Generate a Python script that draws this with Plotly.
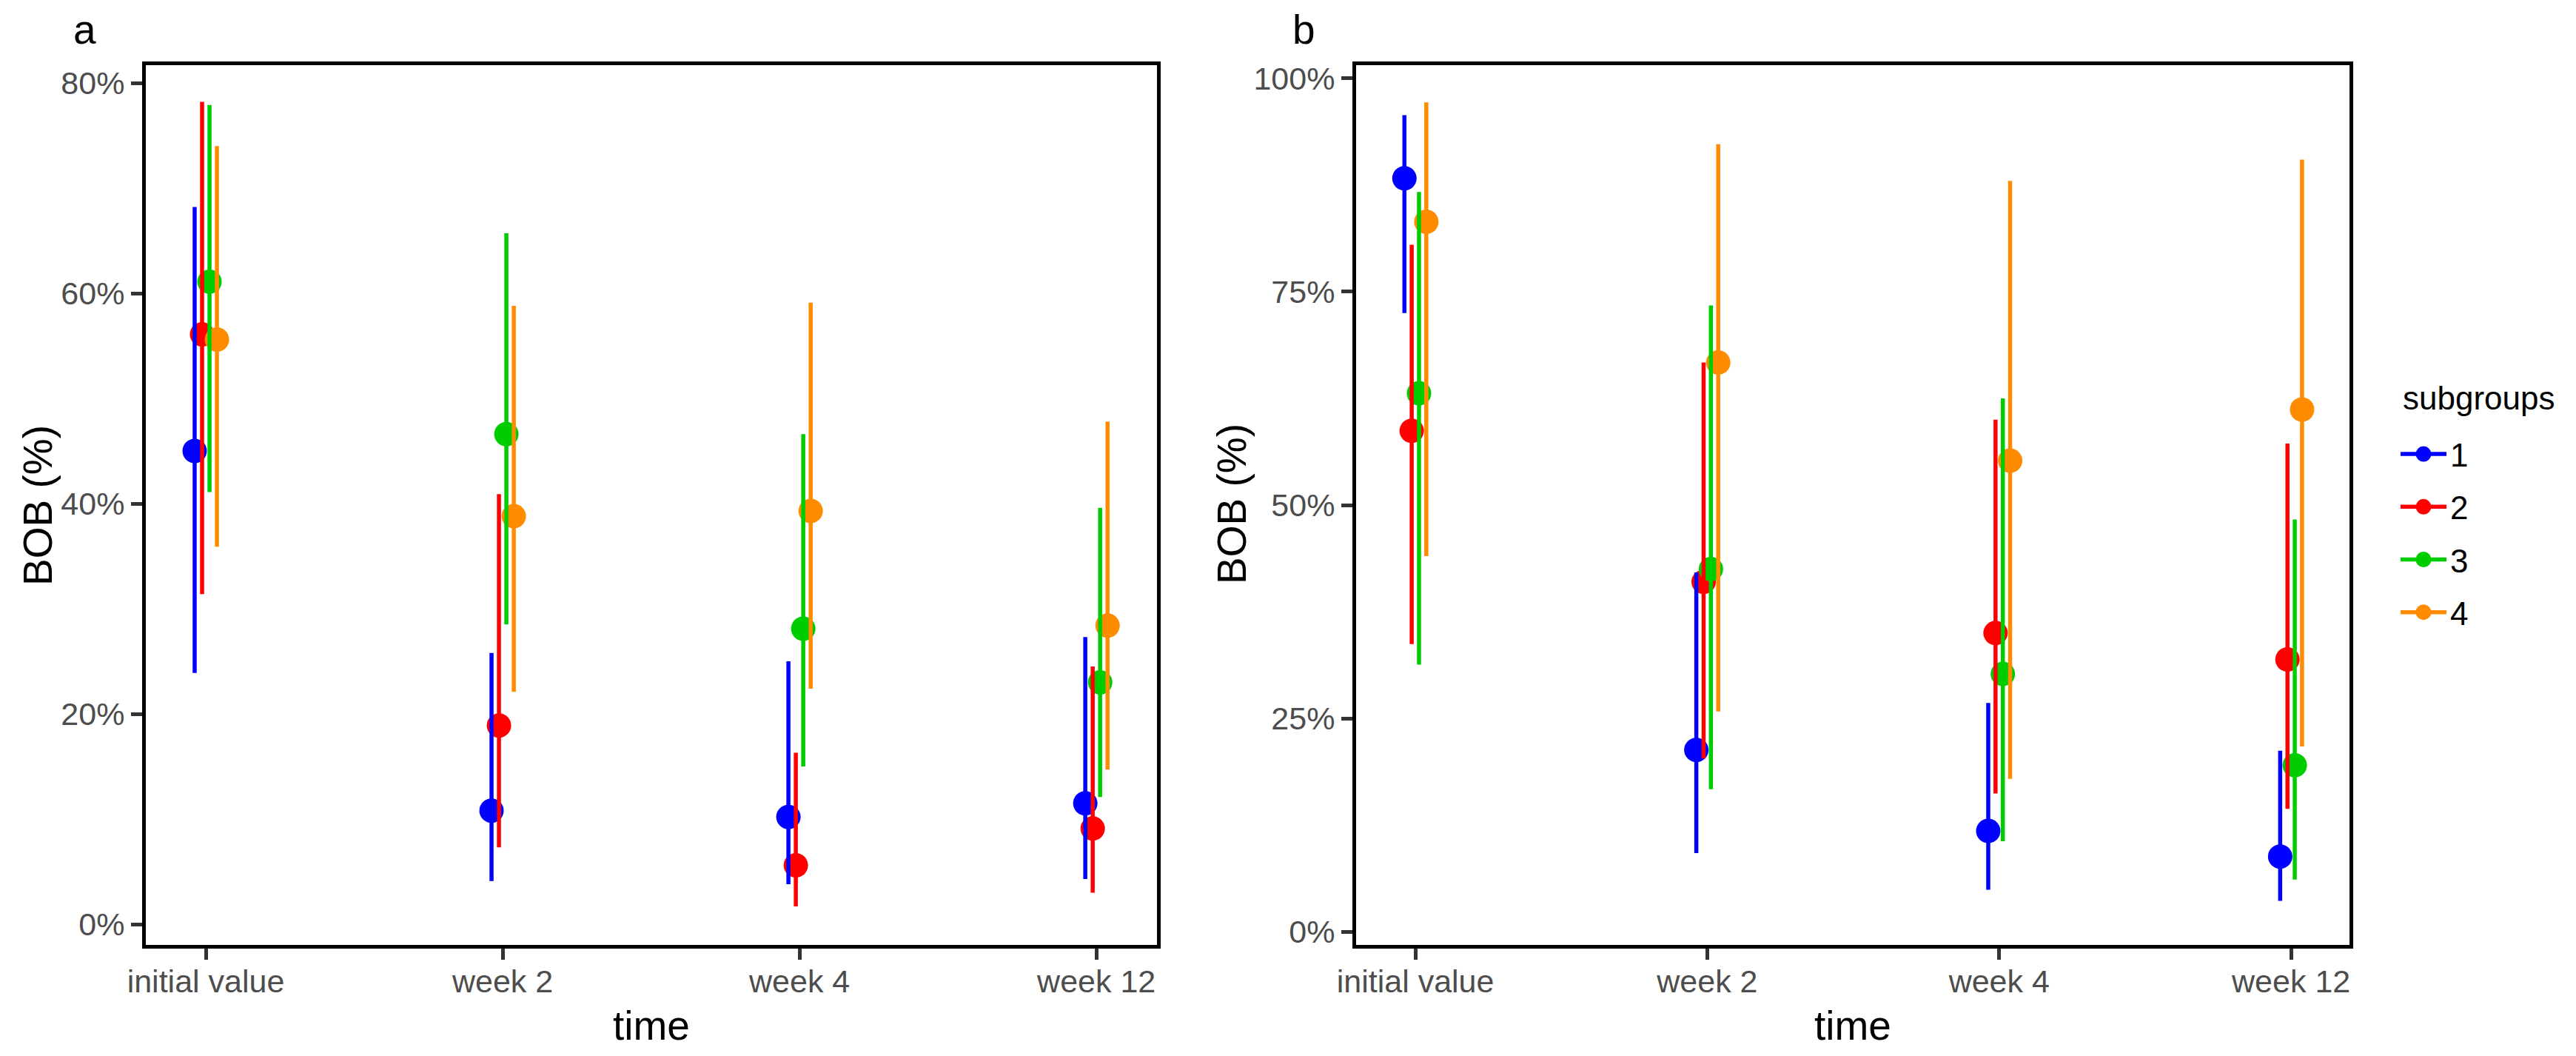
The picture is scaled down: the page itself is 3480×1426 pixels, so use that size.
import plotly.graph_objects as go

# ---------------- data ----------------
times = ["initial value", "week 2", "week 4", "week 12"]
subgroups = ["1", "2", "3", "4"]

# panel a : BOB (%) estimate, lower and upper limits, one row per subgroup
a_est = [
    [45.0, 10.8, 10.2, 11.5],
    [56.1, 18.9, 5.6, 9.1],
    [61.1, 46.6, 28.1, 23.0],
    [55.6, 38.8, 39.3, 28.4],
]
a_low = [
    [23.9, 4.1, 3.8, 4.3],
    [31.4, 7.3, 1.7, 3.0],
    [41.1, 28.5, 15.0, 12.1],
    [35.9, 22.1, 22.4, 14.7],
]
a_high = [
    [68.2, 25.8, 25.0, 27.3],
    [78.2, 40.9, 16.3, 24.5],
    [77.9, 65.7, 46.6, 39.6],
    [74.0, 58.8, 59.1, 47.8],
]

# panel b
b_est = [
    [88.3, 21.3, 11.8, 8.8],
    [58.7, 41.0, 35.0, 31.9],
    [63.1, 42.5, 30.2, 19.5],
    [83.2, 66.7, 55.2, 61.2],
]
b_low = [
    [72.5, 9.2, 4.9, 3.6],
    [33.7, 20.3, 16.2, 14.4],
    [31.3, 16.7, 10.6, 6.1],
    [44.0, 25.8, 17.9, 21.7],
]
b_high = [
    [95.7, 42.1, 26.8, 21.2],
    [80.5, 66.7, 60.0, 57.2],
    [86.7, 73.4, 62.5, 48.3],
    [97.2, 92.3, 88.0, 90.5],
]

a_yticks = [0, 20, 40, 60, 80]
b_yticks = [0, 25, 50, 75, 100]

# ---------------- style ----------------
colors = ["#0000FF", "#FF0000", "#00CD00", "#FF8C00"]
dodge = [-0.0375, -0.0125, 0.0125, 0.0375]
WIN_W, WIN_H = 3480, 1426
OFF = 8                      # default page (body) margin of the html page
W, H = WIN_W - 2 * OFF, WIN_H - 2 * OFF
FONT = "Liberation Sans, Arial, sans-serif"
PT_SIZE = 33
LW = 5.5


def px(xw):
    """window x pixel -> paper fraction"""
    return (xw - OFF) / W


def py(yw):
    """window y pixel (from top) -> paper fraction"""
    return 1 - (yw - OFF) / H


fig = go.Figure()

panels = [
    ("x", "y", a_est, a_low, a_high),
    ("x2", "y2", b_est, b_low, b_high),
]

for xa, ya, est, low, high in panels:
    # points first
    for g in range(len(subgroups)):
        xs = [i + dodge[g] for i in range(len(times))]
        fig.add_trace(go.Scatter(
            x=xs, y=est[g], xaxis=xa, yaxis=ya, mode="markers",
            marker=dict(color=colors[g], size=PT_SIZE, line=dict(width=0)),
            showlegend=False, hoverinfo="skip"))
    # error bars drawn on top of the points
    for g in range(len(subgroups)):
        xs = [i + dodge[g] for i in range(len(times))]
        plus = [h - e for h, e in zip(high[g], est[g])]
        minus = [e - l for e, l in zip(est[g], low[g])]
        fig.add_trace(go.Scatter(
            x=xs, y=est[g], xaxis=xa, yaxis=ya, mode="markers",
            marker=dict(color=colors[g], size=2, opacity=0),
            error_y=dict(type="data", symmetric=False, array=plus, arrayminus=minus,
                         color=colors[g], thickness=LW, width=0),
            showlegend=False, hoverinfo="skip"))

# legend entries
for g in range(len(subgroups)):
    fig.add_trace(go.Scatter(
        x=[None], y=[None], xaxis="x2", yaxis="y2", mode="lines+markers",
        name=subgroups[g], legendgroup=subgroups[g],
        line=dict(color=colors[g], width=LW),
        marker=dict(color=colors[g], size=PT_SIZE, line=dict(color=colors[g], width=5))))

axis_common = dict(
    showline=True, linecolor="black", linewidth=5, mirror=True,
    ticks="outside", ticklen=15, tickwidth=5, tickcolor="#333333",
    tickfont=dict(family=FONT, size=43, color="#4D4D4D"),
    showgrid=False, zeroline=False, fixedrange=True,
)

fig.update_layout(
    width=W, height=H,
    margin=dict(l=0, r=0, t=0, b=0, autoexpand=False),
    paper_bgcolor="white", plot_bgcolor="white",
    font=dict(family=FONT, color="black"),
    xaxis=dict(domain=[px(197), px(1563)], anchor="y", range=[-0.202, 3.204],
               tickvals=list(range(len(times))), ticktext=times,
               ticklabelstandoff=-8, **axis_common),
    yaxis=dict(domain=[py(1276), py(88)], anchor="x", range=[-1.97, 81.69],
               tickvals=a_yticks, ticktext=[f"{v}%" for v in a_yticks],
               ticklabelstandoff=0, **axis_common),
    xaxis2=dict(domain=[px(1832), px(3174)], anchor="y2", range=[-0.203, 3.200],
                tickvals=list(range(len(times))), ticktext=times,
                ticklabelstandoff=-8, **axis_common),
    yaxis2=dict(domain=[py(1276), py(88)], anchor="x2", range=[-1.56, 101.56],
                tickvals=b_yticks, ticktext=[f"{v}%" for v in b_yticks],
                ticklabelstandoff=0, **axis_common),
    legend=dict(
        x=px(3238), xanchor="left", y=py(578), yanchor="top",
        font=dict(family=FONT, size=44, color="black"),
        bgcolor="rgba(0,0,0,0)", itemsizing="trace", itemwidth=62,
        tracegroupgap=11,
    ),
    annotations=[
        dict(text="subgroups", x=px(3244), y=py(537), xref="paper", yref="paper",
             xanchor="left", yanchor="middle", showarrow=False,
             font=dict(family=FONT, size=44, color="black")),
        dict(text="a", x=px(97), y=py(40), xref="paper", yref="paper",
             xanchor="left", yanchor="middle", showarrow=False,
             font=dict(family=FONT, size=55, color="black")),
        dict(text="b", x=px(1744), y=py(40), xref="paper", yref="paper",
             xanchor="left", yanchor="middle", showarrow=False,
             font=dict(family=FONT, size=55, color="black")),
        dict(text="BOB (%)", x=px(51), y=py(683), xref="paper", yref="paper",
             xanchor="center", yanchor="middle", textangle=-90, showarrow=False,
             font=dict(family=FONT, size=55, color="black")),
        dict(text="BOB (%)", x=px(1664), y=py(681), xref="paper", yref="paper",
             xanchor="center", yanchor="middle", textangle=-90, showarrow=False,
             font=dict(family=FONT, size=55, color="black")),
        dict(text="time", x=px(880), y=py(1385), xref="paper", yref="paper",
             xanchor="center", yanchor="middle", showarrow=False,
             font=dict(family=FONT, size=55, color="black")),
        dict(text="time", x=px(2503), y=py(1385), xref="paper", yref="paper",
             xanchor="center", yanchor="middle", showarrow=False,
             font=dict(family=FONT, size=55, color="black")),
    ],
)

fig.write_html("out.html")
